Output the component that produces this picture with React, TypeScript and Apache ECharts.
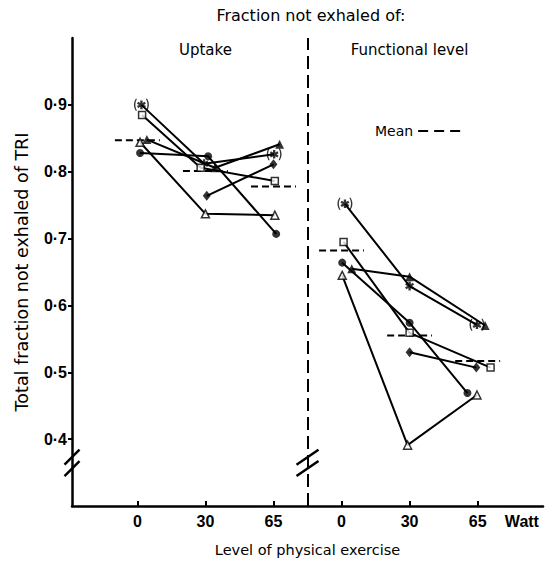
import { useEffect, useRef } from 'react';
import * as echarts from 'echarts';

// Exercise levels (W) shown under each panel, and panel headings
const exerciseLevels = [0, 30, 65];
const panelTitles = ['Uptake', 'Functional level'];
const headerText = 'Fraction not exhaled of:';
const unitLabel = 'Watt';
const yTicks = [0.4, 0.5, 0.6, 0.7, 0.8, 0.9];

// Individual subjects, values at 0 / 30 / 65 W
const asteriskUptake = [0.9, 0.812, 0.826];
const asteriskFunctional = [0.752, 0.629, 0.571];
const squareUptake = [0.885, 0.806, 0.786];
const squareFunctional = [0.695, 0.559, 0.507];
const openTriUptake = [0.844, 0.737, 0.735];
const openTriFunctional = [0.645, 0.391, 0.466];
const filledTriUptake = [0.848, 0.806, 0.841];
const filledTriFunctional = [0.655, 0.643, 0.57];
const circleUptake = [0.828, 0.823, 0.707];
const circleFunctional = [0.664, 0.574, 0.469];
const diamondUptake = [null, 0.764, 0.811];
const diamondFunctional = [null, 0.53, 0.507];

// Group means
const meanUptake = [0.847, 0.801, 0.778];
const meanFunctional = [0.682, 0.555, 0.517];

// Marker shapes: a six-spoke asterisk, optionally wrapped in parentheses
const ASTERISK =
  'M8.7 3L11.3 3L11.3 13L8.7 13Z' +
  ' M5.02 6.63L6.32 4.37L14.98 9.37L13.68 11.63Z' +
  ' M5.02 9.37L13.68 4.37L14.98 6.63L6.32 11.63Z';
const ASTERISK_PAREN =
  ASTERISK + ' M3.6 1Q-0.4 8 3.6 15L5 15Q1.4 8 5 1Z M16.4 1Q20.4 8 16.4 15L15 15Q18.6 8 15 1Z';
const DASH_ICON = 'path://M0 0h10v2h-10z M16 0h10v2h-10z M32 0h10v2h-10z';

type SymbolSpec = { symbol: string; size: number | number[]; open: boolean };

// small horizontal dodge (axis units) so overlapping markers stay readable
const subjects: {
  values: (number | null)[][];
  dodge: number[][];
  marks: SymbolSpec[];
}[] = [
  {
    values: [asteriskUptake, asteriskFunctional],
    dodge: [[0.06, -0.02, 0.01], [0.05, 0, -0.01]],
    marks: [
      { symbol: 'path://' + ASTERISK_PAREN, size: [15, 12], open: false },
      { symbol: 'path://' + ASTERISK, size: [9, 9], open: false },
      { symbol: 'path://' + ASTERISK_PAREN, size: [15, 12], open: false },
    ],
  },
  {
    values: [squareUptake, squareFunctional],
    dodge: [[0.07, -0.07, 0.02], [0.03, 0, 0.19]],
    marks: Array(3).fill({ symbol: 'rect', size: 7, open: true }),
  },
  {
    values: [openTriUptake, openTriFunctional],
    dodge: [[0.04, 0, 0.02], [0.01, -0.03, -0.01]],
    marks: Array(3).fill({ symbol: 'triangle', size: 8, open: true }),
  },
  {
    values: [filledTriUptake, filledTriFunctional],
    dodge: [[0.14, 0.14, 0.09], [0.15, 0, 0.11]],
    marks: Array(3).fill({ symbol: 'triangle', size: 9, open: false }),
  },
  {
    values: [circleUptake, circleFunctional],
    dodge: [[0.04, 0.04, 0.04], [0.01, 0, -0.15]],
    marks: Array(3).fill({ symbol: 'circle', size: 8, open: false }),
  },
  {
    values: [diamondUptake, diamondFunctional],
    dodge: [[0, 0.02, 0], [0, 0, -0.02]],
    marks: Array(3).fill({ symbol: 'diamond', size: [8, 10], open: false }),
  },
];

const means = [meanUptake, meanFunctional];
const MEAN_HALF = 0.33;
const PANEL_SPAN = exerciseLevels.length; // positions per panel

const INK = '#000';
const SANS = 'DejaVu Sans';
const BOLD = 'Liberation Sans';

export default function App() {
  const ref = useRef<HTMLDivElement>(null);

  useEffect(() => {
    const el = ref.current;
    if (!el) return;
    const chart = echarts.init(el, null, { renderer: 'svg' });

    const series: any[] = [];
    const tickPositions: number[] = [];
    for (let p = 0; p < panelTitles.length; p++) {
      for (let i = 0; i < exerciseLevels.length; i++) tickPositions.push(p * PANEL_SPAN + i);
    }

    subjects.forEach((s, si) => {
      s.values.forEach((vals, p) => {
        const pts: any[] = [];
        vals.forEach((v, i) => {
          if (v == null) return;
          const m = s.marks[i];
          pts.push({
            value: [p * PANEL_SPAN + i + s.dodge[p][i], v],
            symbol: m.symbol,
            symbolSize: m.size,
            itemStyle: m.open
              ? { color: '#fff', borderColor: INK, borderWidth: 1.5 }
              : { color: INK, borderWidth: 0 },
          });
        });
        series.push({
          type: 'line',
          data: pts.map((d) => d.value),
          symbol: 'none',
          silent: true,
          z: 2,
          lineStyle: { color: INK, width: 2 },
          ...(si === 0 && p === 0
            ? {
                markLine: {
                  silent: true,
                  symbol: ['none', 'none'],
                  label: { show: false },
                  lineStyle: { color: INK, width: 2, type: [13, 6] },
                  data: [{ xAxis: (PANEL_SPAN * 2 - 1) / 2 }],
                },
              }
            : {}),
        });
        series.push({
          type: 'scatter',
          data: pts,
          silent: true,
          z: 4,
        });
      });
    });

    means.forEach((vals, p) => {
      vals.forEach((v, i) => {
        const c = p * PANEL_SPAN + i;
        series.push({
          type: 'line',
          name: 'Mean',
          data: [
            [c - MEAN_HALF, v],
            [c + MEAN_HALF, v],
          ],
          symbol: 'none',
          silent: true,
          z: 3,
          lineStyle: { color: INK, width: 2, type: [7, 4] },
          itemStyle: { color: INK },
        });
      });
    });

    const labelPositions = [...tickPositions, 5.65];

    chart.setOption({
      animation: false,
      backgroundColor: '#fff',
      grid: { left: 72, right: 11, top: 38, bottom: 52 },
      legend: {
        data: [{ name: 'Mean', icon: DASH_ICON }],
        left: 375,
        top: 124,
        padding: 0,
        align: 'right',
        itemWidth: 42,
        itemHeight: 2.5,
        itemGap: 6,
        selectedMode: false,
        itemStyle: { color: INK, borderWidth: 0 },
        textStyle: { fontFamily: SANS, fontSize: 14, color: INK },
      },
      xAxis: {
        type: 'value',
        min: -0.96,
        max: 5.96,
        name: 'Level of physical exercise',
        nameLocation: 'middle',
        nameGap: 36,
        nameTextStyle: { fontFamily: SANS, fontSize: 14.5, color: INK },
        axisLine: { show: true, onZero: false, lineStyle: { color: INK, width: 2.5 } },
        axisTick: {
          show: true,
          inside: true,
          length: 5,
          customValues: tickPositions,
          lineStyle: { color: INK, width: 2 },
        },
        axisLabel: {
          customValues: labelPositions,
          margin: 7,
          fontFamily: BOLD,
          fontWeight: 'bold',
          fontSize: 16,
          color: INK,
          formatter: (v: number) => {
            const i = Math.round(v);
            if (Math.abs(v - i) < 1e-6 && i >= 0 && i < tickPositions.length) {
              return String(exerciseLevels[i % PANEL_SPAN]);
            }
            return unitLabel;
          },
        },
        splitLine: { show: false },
      },
      yAxis: {
        type: 'value',
        min: 0.3,
        max: 1.0,
        name: 'Total fraction not exhaled of TRI',
        nameLocation: 'middle',
        nameGap: 41,
        nameTextStyle: { fontFamily: SANS, fontSize: 17.5, color: INK },
        axisLine: { show: true, onZero: false, lineStyle: { color: INK, width: 2.5 } },
        axisTick: {
          show: true,
          length: 4,
          customValues: yTicks,
          lineStyle: { color: INK, width: 2 },
        },
        axisLabel: {
          customValues: yTicks,
          margin: 5,
          fontFamily: BOLD,
          fontWeight: 'bold',
          fontSize: 16,
          color: INK,
          formatter: (v: number) => v.toFixed(1).replace('.', '\u00b7'),
        },
        splitLine: { show: false },
      },
      series,
    });

    // decorations placed through the axes: headings and axis-break marks
    const px = (x: number, y: number) =>
      chart.convertToPixel({ xAxisIndex: 0, yAxisIndex: 0 }, [x, y]) as number[];
    const divider = (PANEL_SPAN * 2 - 1) / 2;
    const [axisX] = px(-0.96, 0.3);
    const [divX] = px(divider, 0.3);
    const breaks = [0.373, 0.356].map((v) => px(0, v)[1]);
    const slash = (cx: number, cy: number, hw: number) => ({
      type: 'line',
      silent: true,
      z: 10,
      shape: { x1: cx - hw, y1: cy + 7.5, x2: cx + hw, y2: cy - 7.5 },
      style: { stroke: INK, lineWidth: 2.5 },
    });

    const texts: any[] = [
      {
        type: 'text',
        silent: true,
        x: px(divider + 0.05, 0.3)[0],
        y: 15,
        style: { text: headerText, fontFamily: SANS, fontSize: 16, fill: INK, align: 'center', verticalAlign: 'middle' },
      },
      ...panelTitles.map((t, p) => ({
        type: 'text',
        silent: true,
        x: px(p * PANEL_SPAN + 1, 0.3)[0],
        y: 50,
        style: { text: t, fontFamily: SANS, fontSize: 15, fill: INK, align: 'center', verticalAlign: 'middle' },
      })),
    ];

    chart.setOption({
      graphic: [
        ...texts,
        ...breaks.map((y) => slash(axisX, y, 7.5)),
        ...breaks.map((y) => slash(divX, y, 11)),
      ],
    });

    return () => chart.dispose();
  }, []);

  return (
    <div
      ref={ref}
      style={{ position: 'fixed', left: 0, top: 0, width: 554, height: 562, background: '#fff' }}
    />
  );
}
